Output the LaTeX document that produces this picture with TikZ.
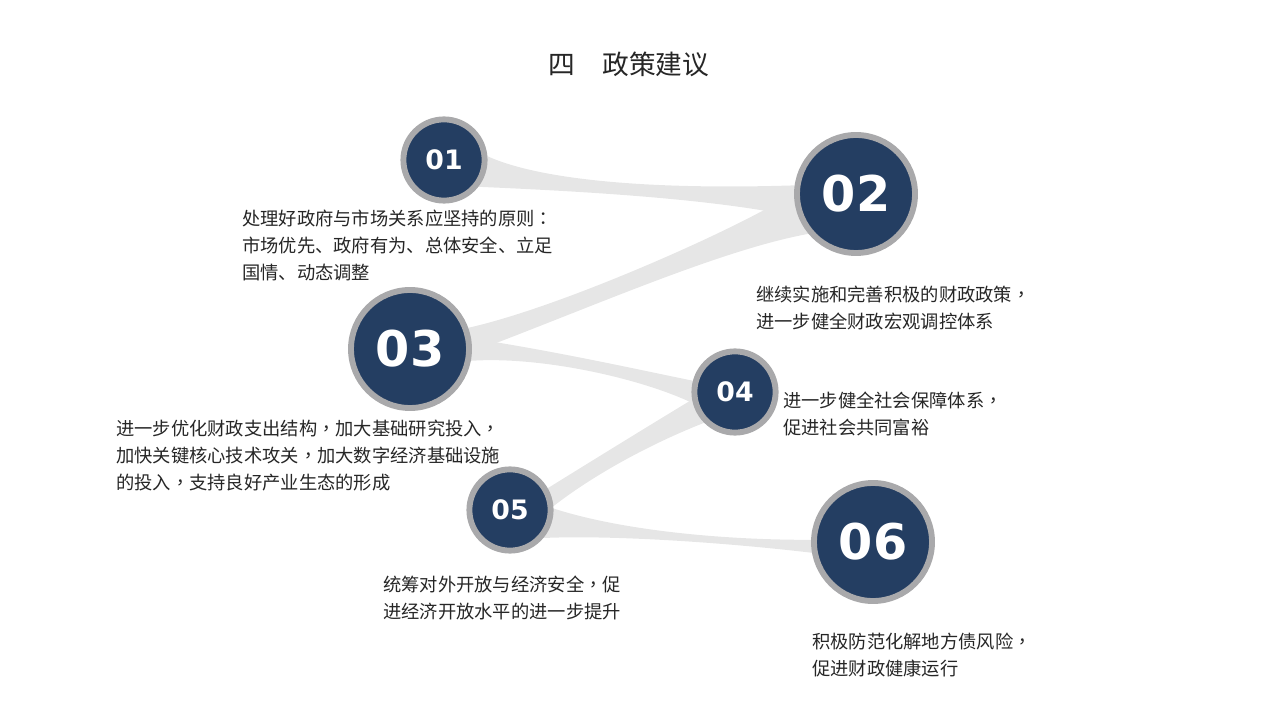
\documentclass[tikz,border=0pt]{standalone}
\usepackage{fontspec}
\setmainfont{Noto Sans CJK SC}
\newfontfamily\numfont{DejaVu Sans}
\newfontfamily\puncfont{Noto Sans CJK TC}
\newcommand\zc{{\puncfont ，}}
\newcommand\zcol{{\puncfont ：}}
\usetikzlibrary{backgrounds}
\definecolor{navy}{HTML}{243E62}
\definecolor{ringgray}{HTML}{A9A9AB}
\definecolor{ribbon}{HTML}{E6E6E6}
\definecolor{txt}{HTML}{262626}

\begin{document}
\begin{tikzpicture}[x=0.025cm,y=-0.025cm,
  big/.style={circle,fill=navy,draw=ringgray,line width=4.2pt,minimum size=2.95cm,inner sep=0pt,text=white,font=\numfont\bfseries\fontsize{35}{35}\selectfont},
  small/.style={circle,fill=navy,draw=ringgray,line width=4.2pt,minimum size=2.03cm,inner sep=0pt,text=white,font=\numfont\bfseries\fontsize{19}{19}\selectfont},
  desc/.style={anchor=north west,inner sep=0pt,align=left,text=txt,font=\fontsize{13}{19.2}\selectfont},
  band/.style={fill=ribbon}]
\useasboundingbox (0,0) rectangle (1280,720);
\node[font=\fontsize{19}{19}\selectfont,text=txt] (title) at (629,64) {四　政策建议};

\node[small] (c1) at (444,160) {01};
\node[big] (c2) at (856,194) {02};
\node[big] (c3) at (410,349) {03};
\node[small] (c4) at (735,392) {04};
\node[small] (c5) at (510,510) {05};
\node[big] (c6) at (873,542) {06};

\begin{scope}[on background layer]
\fill[band] (c1.5) .. controls (540,180) and (650,190) .. (c2.172) -- (c2.202) .. controls (720,200) and (600,192) .. (c1.-38) -- cycle;
\fill[band] (c2.178) .. controls (760,218) and (570,305) .. (c3.20) -- (c3.-3) .. controls (590,308) and (720,250) .. (c2.220) -- cycle;
\fill[band] (c3.10) .. controls (560,352) and (640,370) .. (c4.165) -- (c4.195) .. controls (640,378) and (540,356) .. (c3.-11) -- cycle;
\fill[band] (c4.190) .. controls (650,425) and (590,462) .. (c5.30) -- (c5.5) .. controls (600,470) and (660,440) .. (c4.225) -- cycle;
\fill[band] (c5.2) .. controls (620,530) and (720,540) .. (c6.178) -- (c6.190) .. controls (720,542) and (610,535) .. (c5.-40) -- cycle;
\end{scope}

\node[desc] (t1) at (242,210) {处理好政府与市场关系应坚持的原则\zcol\\市场优先、政府有为、总体安全、立足\\国情、动态调整};
\node[desc] (t2) at (756,286) {继续实施和完善积极的财政政策\zc\\进一步健全财政宏观调控体系};
\node[desc] (t3) at (116,420) {进一步优化财政支出结构\zc 加大基础研究投入\zc\\加快关键核心技术攻关\zc 加大数字经济基础设施\\的投入\zc 支持良好产业生态的形成};
\node[desc] (t4) at (783,392) {进一步健全社会保障体系\zc\\促进社会共同富裕};
\node[desc] (t5) at (383,576) {统筹对外开放与经济安全\zc 促\\进经济开放水平的进一步提升};
\node[desc] (t6) at (812,633) {积极防范化解地方债风险\zc\\促进财政健康运行};
\end{tikzpicture}
\end{document}
